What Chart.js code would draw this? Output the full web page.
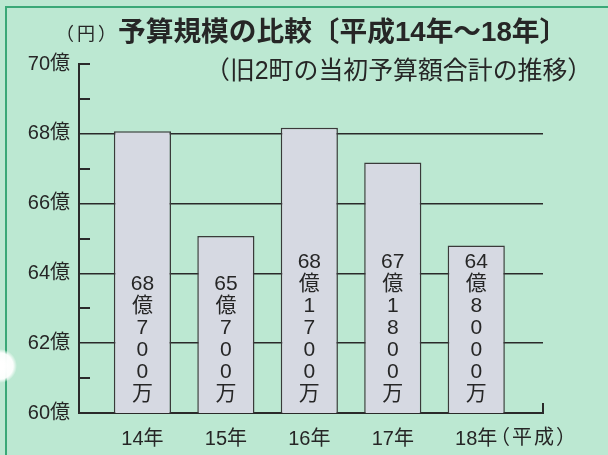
<!DOCTYPE html>
<html><head><meta charset="utf-8">
<script src="https://cdn.jsdelivr.net/npm/chart.js@4/dist/chart.umd.min.js"></script>
<style>html,body{margin:0;padding:0;background:#bce8d2;}#wrap{width:608px;height:455px;position:relative}</style>
</head><body><div id="wrap"><canvas id="c" width="608" height="455"></canvas></div>
<script>
const years = [14, 15, 16, 17, 18];
const yearLabels = ['14年', '15年', '16年', '17年', '18年'];
const budgets = [68.07, 65.07, 68.17, 67.18, 64.80]; // 億円
const budgetTexts = ['68億700万', '65億700万', '68億1700万', '67億1800万', '64億8000万'];
const yTicks = [60, 62, 64, 66, 68, 70];
const minorTicks = [61, 63, 65, 67, 69, 70];
const unitText = '（円）';
const titleText = '予算規模の比較〔平成14年～18年〕';
const subtitleText = '（旧2町の当初予算額合計の推移）';
const eraText = '（平成）';

const FONT = '"Liberation Sans", "Noto Sans CJK JP", sans-serif';
const INK = '#262626';
const LINE = '#2a2a2a';

function fitFont(ctx, text, weight, width) {
  ctx.font = weight + ' 20px ' + FONT;
  const w = ctx.measureText(text).width;
  return 20 * width / w;
}

const deco = {
  id: 'deco',
  beforeDraw(chart) {
    const ctx = chart.ctx;
    ctx.save();
    ctx.fillStyle = '#bce8d2';
    ctx.fillRect(0, 0, chart.width, chart.height);
    ctx.strokeStyle = '#3aa877';
    ctx.lineWidth = 2;
    ctx.beginPath();
    ctx.moveTo(6, 455); ctx.lineTo(6, 7); ctx.lineTo(608, 7);
    ctx.stroke();
    const g = ctx.createRadialGradient(0, 366, 4, 0, 366, 17);
    g.addColorStop(0, 'rgba(255,255,255,1)');
    g.addColorStop(0.7, 'rgba(255,255,255,0.95)');
    g.addColorStop(1, 'rgba(255,255,255,0)');
    ctx.fillStyle = g;
    ctx.beginPath(); ctx.arc(0, 366, 17, 0, Math.PI * 2); ctx.fill();
    ctx.restore();
  },
  afterDatasetsDraw(chart) {
    const ctx = chart.ctx;
    const meta = chart.getDatasetMeta(0);
    const yScale = chart.scales.y;
    ctx.save();
    ctx.fillStyle = INK;
    ctx.font = '21px ' + FONT;
    ctx.textAlign = 'center';
    ctx.textBaseline = 'middle';
    const lh = 22;
    const bottomY = yScale.getPixelForValue(yScale.min) - 19;
    meta.data.forEach((bar, i) => {
      const m = budgetTexts[i].match(/^(\d+)(億)(.*)$/);
      const lines = [m[1], m[2]].concat(m[3].split(''));
      lines.forEach((s, k) => {
        ctx.fillText(s, bar.x, bottomY - (lines.length - 1 - k) * lh);
      });
    });
    ctx.restore();
  },
  afterDraw(chart) {
    const ctx = chart.ctx;
    const yScale = chart.scales.y;
    const area = chart.chartArea;
    ctx.save();
    ctx.strokeStyle = LINE;
    ctx.lineWidth = 2;
    ctx.beginPath();
    minorTicks.forEach(v => {
      const y = Math.round(yScale.getPixelForValue(v));
      ctx.moveTo(area.left, y); ctx.lineTo(area.left + 11, y);
    });
    ctx.moveTo(area.right, area.bottom + 1); ctx.lineTo(area.right, area.bottom - 10);
    ctx.stroke();

    ctx.fillStyle = INK;
    ctx.textBaseline = 'middle';
    ctx.textAlign = 'left';
    ctx.font = '18px ' + FONT;
    ctx.letterSpacing = '3px';
    ctx.fillText(unitText, 56, 35);
    ctx.font = '20px ' + FONT;
    ctx.letterSpacing = '2px';
    ctx.fillText(eraText, 490, 438);
    ctx.letterSpacing = '0px';
    let fs = fitFont(ctx, titleText, 'bold', 449);
    ctx.font = 'bold ' + fs.toFixed(1) + 'px ' + FONT;
    ctx.fillText(titleText, 118, 33);
    fs = fitFont(ctx, subtitleText, 'normal', 387);
    ctx.font = fs.toFixed(1) + 'px ' + FONT;
    ctx.fillText(subtitleText, 205, 72);
    ctx.restore();
  }
};

new Chart(document.getElementById('c'), {
  type: 'bar',
  data: {
    datasets: [{
      data: years.map((x, i) => ({ x: x, y: budgets[i] })),
      backgroundColor: '#d6d9e2',
      borderColor: '#3a3a3a',
      borderWidth: 1.5,
      borderSkipped: 'bottom',
      barPercentage: 0.685,
      categoryPercentage: 1
    }]
  },
  options: {
    responsive: false,
    animation: false,
    devicePixelRatio: 1,
    layout: { padding: { left: 0, top: 64, right: 65, bottom: 0 } },
    plugins: { legend: { display: false }, tooltip: { enabled: false }, title: { display: false } },
    scales: {
      x: {
        type: 'linear',
        offset: false,
        min: 13.24,
        max: 18.8,
        afterBuildTicks: s => { s.ticks = years.map(v => ({ value: v })); },
        afterFit: s => { s.height = 42; },
        ticks: {
          callback: v => yearLabels[years.indexOf(v)],
          color: INK,
          font: { family: FONT, size: 20 },
          padding: 6,
          maxRotation: 0,
          autoSkip: false
        },
        grid: { display: false },
        border: { display: true, color: LINE, width: 2 }
      },
      y: {
        min: 60,
        max: 70,
        afterBuildTicks: s => { s.ticks = yTicks.map(v => ({ value: v })); },
        afterFit: s => { s.width = 79; },
        ticks: {
          callback: v => v + '億',
          color: INK,
          font: { family: FONT, size: 20 },
          padding: 9
        },
        grid: {
          drawTicks: false,
          lineWidth: 1.5,
          color: c => (c.tick && c.tick.value > 60 && c.tick.value < 70) ? LINE : 'rgba(0,0,0,0)'
        },
        border: { display: true, color: LINE, width: 2 }
      }
    }
  },
  plugins: [deco]
});
</script>
</body></html>
